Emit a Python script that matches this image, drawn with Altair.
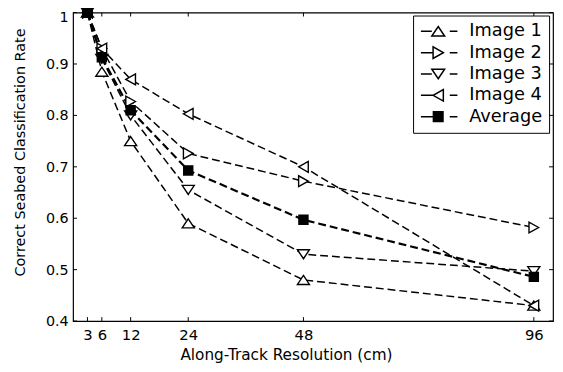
import altair as alt
import pandas as pd

# ---- data ----
resolution = [3, 6, 12, 24, 48, 96]
series_names = ["Image 1", "Image 2", "Image 3", "Image 4", "Average"]
image1 = [1.0, 0.885, 0.75, 0.59, 0.48, 0.43]
image2 = [1.0, 0.93, 0.827, 0.726, 0.672, 0.582]
image3 = [1.0, 0.91, 0.80, 0.655, 0.53, 0.497]
image4 = [1.0, 0.93, 0.87, 0.803, 0.70, 0.43]
average = [1.0, 0.913, 0.81, 0.693, 0.597, 0.486]

x_ticks = [3, 6, 12, 24, 48, 96]
y_ticks = [0.4, 0.5, 0.6, 0.7, 0.8, 0.9, 1.0]

values = [image1, image2, image3, image4, average]
rows = []
for name, vals in zip(series_names, values):
    for r, v in zip(resolution, vals):
        rows.append({"series": name, "res": r, "rate": v})
df = pd.DataFrame(rows)

W, H = 487, 313
FONT = "DejaVu Sans"

# marker paths (unit square -1..1)
plot_paths = [
    "M0,-0.75L1,0.75L-1,0.75Z",
    "M0.8,0L-0.8,-0.9L-0.8,0.9Z",
    "M0,0.75L1,-0.75L-1,-0.75Z",
    "M-0.8,0L0.8,-0.9L0.8,0.9Z",
    "M-0.75,-0.75H0.75V0.75H-0.75Z",
]
legend_paths = [
    "M-2.7,0H-1M1.8,0H3.0M0,-0.75L1,0.75L-1,0.75Z",
    "M-2.7,0H-0.8M1.8,0H3.0M0.8,0L-0.8,-0.9L-0.8,0.9Z",
    "M-2.7,0H-1M1.8,0H3.0M0,0.75L1,-0.75L-1,-0.75Z",
    "M-2.7,0H-0.8M1.8,0H3.0M-0.8,0L0.8,-0.9L0.8,0.9Z",
    "M-2.7,0H-0.75M1.8,0H3.0M-0.75,-0.75H0.75V0.75H-0.75Z",
]
fills = ["white", "white", "white", "white", "black"]
strokes = ["black"] * 5

x_enc = alt.X(
    "res:Q",
    scale=alt.Scale(domain=[0, 100], nice=False, zero=False),
    axis=alt.Axis(
        values=x_ticks, title="Along-Track Resolution (cm)", ticks=False, tickSize=0,
        domain=False, grid=False, labelFont=FONT, labelFontSize=15, labelColor="black",
        labelPadding=6.5, labelFlush=False, labelOverlap=False, labelBound=False,
        titleFont=FONT, titleFontSize=15.5, titleFontWeight="normal", titleColor="black",
        titleX=216, titleY=39, titleBaseline="alphabetic", titleAlign="center",
    ),
)
y_enc = alt.Y(
    "rate:Q",
    scale=alt.Scale(domain=[0.4, 1.0], nice=False, zero=False),
    axis=alt.Axis(
        values=y_ticks, format="~g", title="Correct Seabed Classification Rate",
        ticks=False, tickSize=0, domain=False, grid=False, labelFont=FONT,
        labelFontSize=14.5, labelColor="black", labelPadding=5, labelFlush=False,
        labelOverlap=False, labelBound=False,
        labelOffset={"condition": {"test": "datum.value >= 1", "value": 5.5}, "value": 0.5},
        titleFont=FONT, titleFontSize=14.6, titleFontWeight="normal", titleColor="black",
        titleX=-49, titleY=141.5, titleBaseline="alphabetic", titleAlign="center",
    ),
)

base = alt.Chart(df)

lines = base.mark_line(color="black", strokeDash=[8, 4]).encode(
    x=x_enc, y=y_enc, detail="series:N",
    strokeWidth=alt.condition("datum.series === 'Average'", alt.value(2.2), alt.value(1.5)),
)

points = base.mark_point(color="black", strokeWidth=1.4, size=150, opacity=1).encode(
    x=x_enc, y=y_enc,
    shape=alt.Shape("series:N", scale=alt.Scale(domain=series_names, range=plot_paths), legend=None),
    fill=alt.Fill("series:N", scale=alt.Scale(domain=series_names, range=fills), legend=None),
)

leg = alt.Legend(
    title=None, orient="none", legendX=345, legendY=3,
    labelFont=FONT, labelFontSize=18, labelColor="black",
    symbolSize=169, symbolStrokeWidth=1.5, symbolStrokeColor="black",
    symbolOffset=9.5, labelOffset=22.5, padding=7, rowPadding=3.65,
    strokeColor="black", fillColor="white",
)
legend_layer = base.transform_filter("false").mark_point(color="black", strokeWidth=1.5, opacity=1).encode(
    x=x_enc, y=y_enc,
    shape=alt.Shape("series:N", scale=alt.Scale(domain=series_names, range=legend_paths), legend=leg),
    fill=alt.Fill("series:N", scale=alt.Scale(domain=series_names, range=fills), legend=leg),
    stroke=alt.Stroke("series:N", scale=alt.Scale(domain=series_names, range=strokes), legend=leg),
)

xt = pd.DataFrame({"res": x_ticks})
yt = pd.DataFrame({"rate": y_ticks})
tick_b = alt.Chart(xt).mark_rule(color="black", strokeWidth=1).encode(x="res:Q", y=alt.value(H), y2=alt.value(H - 4))
tick_t = alt.Chart(xt).mark_rule(color="black", strokeWidth=1).encode(x="res:Q", y=alt.value(0), y2=alt.value(4))
tick_l = alt.Chart(yt).mark_rule(color="black", strokeWidth=1).encode(y="rate:Q", x=alt.value(0), x2=alt.value(4))
tick_r = alt.Chart(yt).mark_rule(color="black", strokeWidth=1).encode(y="rate:Q", x=alt.value(W), x2=alt.value(W - 4))

chart = alt.layer(lines, points, legend_layer, tick_b, tick_t, tick_l, tick_r).resolve_scale(
    shape="independent", fill="independent", stroke="independent"
).properties(
    width=W, height=H,
    autosize=alt.AutoSizeParams(type="none"),
    padding={"left": 66, "top": 2, "right": 2, "bottom": 46},
    background="white",
).configure_view(stroke="black", strokeWidth=1.2)

chart.save("out.html", embed_options={"renderer": "svg", "actions": False})
